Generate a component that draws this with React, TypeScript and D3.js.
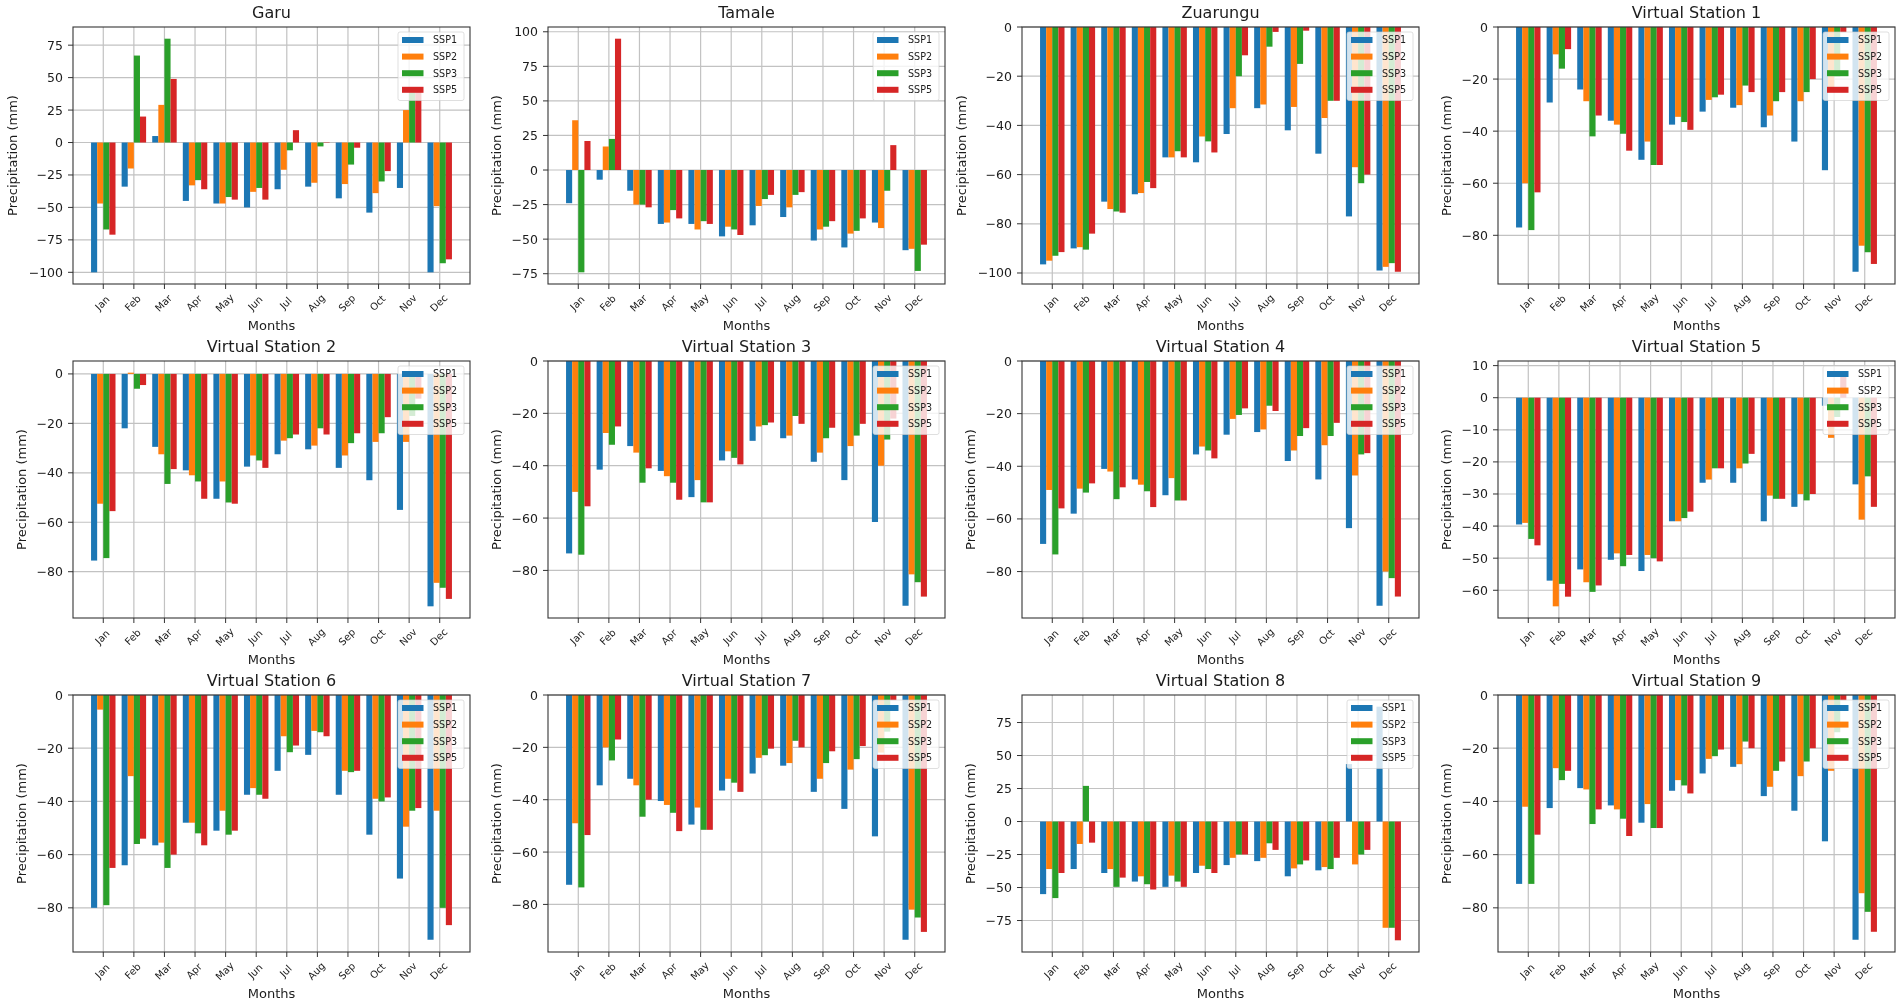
import React from "react";
import * as d3 from "d3";

const months = ["Jan","Feb","Mar","Apr","May","Jun","Jul","Aug","Sep","Oct","Nov","Dec"];
const scenarios = ["SSP1","SSP2","SSP3","SSP5"];
const colors = ["#1f77b4","#ff7f0e","#2ca02c","#d62728"];

const garuSSP1 = [-100,-34,5,-45,-47,-50,-36,-34,-43,-54,-35,-100];
const garuSSP2 = [-47,-20,29,-33,-47,-38,-21,-31,-32,-39,25,-49];
const garuSSP3 = [-67,67,80,-29,-42,-35,-6,-3,-17,-30,40,-93];
const garuSSP5 = [-71,20,49,-36,-44,-44,9.5,-0.3,-4,-22,42,-90];

const tamaleSSP1 = [-24,-7,-15,-39,-39,-48,-40,-34,-51,-56,-38,-58];
const tamaleSSP2 = [36,17,-25,-38,-43,-41,-26,-27,-43,-46,-42,-57];
const tamaleSSP3 = [-74,22.5,-25,-29,-37,-43,-21,-18,-41,-44,-15,-73];
const tamaleSSP5 = [21,95,-27,-35,-39,-47,-18,-16,-37,-35,18,-54];

const zuarunguSSP1 = [-96.5,-90,-71,-68,-53,-55,-43.5,-33,-42,-51.5,-77,-99];
const zuarunguSSP2 = [-95,-89.5,-74,-67.5,-53,-44.5,-33,-31.5,-32.5,-37,-57,-97.5];
const zuarunguSSP3 = [-93,-90.5,-75,-63,-50.5,-46.5,-20,-8,-15,-30,-63.5,-96];
const zuarunguSSP5 = [-91.5,-84,-75.5,-65.5,-53,-51,-11.5,-2,-1.5,-30,-60,-99.5];

const vs1SSP1 = [-77,-29,-24,-36,-51,-37.5,-32.5,-31,-38.5,-44,-55,-94];
const vs1SSP2 = [-60,-10.5,-28.5,-37.5,-44,-34.5,-28,-30,-34,-28.5,-24,-84];
const vs1SSP3 = [-78,-16,-42,-41,-53,-36.5,-27,-22.5,-28.5,-25,-19,-86.5];
const vs1SSP5 = [-63.5,-8.5,-34,-47.5,-53,-39.5,-26,-25,-25,-20,-2,-91];

const vs2SSP1 = [-75.5,-22,-29.5,-39,-50.5,-37.5,-32.5,-30.5,-38,-43,-55,-94];
const vs2SSP2 = [-52.5,0.5,-32.5,-41,-43.5,-33,-27,-29,-33,-27.5,-27.5,-84.5];
const vs2SSP3 = [-74.5,-6,-44.5,-43.5,-52,-35,-26,-22,-28,-24,-17,-86.5];
const vs2SSP5 = [-55.5,-4.5,-38.5,-50.5,-52.5,-38,-24.5,-24.5,-24,-17.5,-10,-91];

const vs3SSP1 = [-73.5,-41.5,-32.5,-42,-52,-38,-30.5,-29.5,-38.5,-45.5,-61.5,-93.5];
const vs3SSP2 = [-50,-27.5,-35,-44,-45.5,-34.5,-25,-28.5,-35,-32.5,-40,-81.5];
const vs3SSP3 = [-74,-32,-46.5,-46.5,-54,-37,-24.5,-21,-29.5,-28.5,-30,-84.5];
const vs3SSP5 = [-55.5,-25,-41,-53,-54,-39.5,-23.5,-24,-25.5,-24,-22,-90];

const vs4SSP1 = [-69.5,-58,-41,-45,-51,-35.5,-28,-27,-38,-45,-63.5,-93];
const vs4SSP2 = [-49,-48.5,-42,-47,-44.5,-32.5,-22,-26,-34,-32,-43.5,-80];
const vs4SSP3 = [-73.5,-50,-52.5,-49.5,-53,-34,-20.5,-17,-28.5,-28.5,-35.5,-82.5];
const vs4SSP5 = [-56,-46.5,-48,-55.5,-53,-37,-18,-19,-25.5,-23.5,-35,-89.5];

const vs5SSP1 = [-39.5,-57,-53.5,-50.5,-54,-38.5,-26.5,-26.5,-38.5,-34,-2.5,-27];
const vs5SSP2 = [-39,-65,-57.5,-48.5,-49,-38.5,-25.5,-22,-30.5,-30,-12.5,-38];
const vs5SSP3 = [-44,-58,-60.5,-52.5,-50,-37.5,-22,-20.5,-31.5,-32,-6,-24.5];
const vs5SSP5 = [-46,-62,-58.5,-49,-51,-35.5,-22,-17.5,-31.5,-30,7.8,-34];

const vs6SSP1 = [-80,-64,-56.5,-48,-51,-37.5,-28.5,-22.5,-37.5,-52.5,-69,-92];
const vs6SSP2 = [-5.5,-30.5,-55.5,-48,-43.5,-35,-15.5,-13.5,-28.5,-39,-49.5,-43.5];
const vs6SSP3 = [-79,-56,-65,-52,-52.5,-37.5,-21.5,-14,-29,-40,-43.5,-80];
const vs6SSP5 = [-65,-54,-60,-56.5,-51,-39,-19,-15.5,-28.5,-38.5,-42.5,-86.5];

const vs7SSP1 = [-72.5,-34.5,-32,-40.5,-49.5,-36.5,-30,-27,-37,-43.5,-54,-93.5];
const vs7SSP2 = [-49,-20,-34.5,-42,-43,-32,-24,-26,-32,-28.5,-22,-82];
const vs7SSP3 = [-73.5,-25,-46.5,-45,-51.5,-33.5,-23,-17.5,-26,-24.5,-14,-85];
const vs7SSP5 = [-53.5,-17,-40,-52,-51.5,-37,-20.5,-20,-21.5,-19.5,-2,-90.5];

const vs8SSP1 = [-55,-36,-39,-45.5,-49.5,-39,-33,-30,-41.5,-37,43.5,87];
const vs8SSP2 = [-36,-17,-36,-41.5,-41,-33.5,-27.5,-27.5,-35.5,-34.5,-32.5,-80.5];
const vs8SSP3 = [-58,27,-49.5,-47.5,-45.5,-36,-25,-16.5,-32.5,-36,-25,-80.5];
const vs8SSP5 = [-39,-16,-42.5,-51.5,-49.5,-39,-25,-21.5,-29.5,-27.5,-21.5,-90];

const vs9SSP1 = [-71,-42.5,-35,-41.5,-48,-36,-29.5,-27,-38,-43.5,-55,-92];
const vs9SSP2 = [-42,-27.5,-35.5,-43,-41,-32,-24,-26,-34.5,-30.5,-28.5,-74.5];
const vs9SSP3 = [-71,-32,-48.5,-46.5,-50,-34,-23,-17.5,-28.5,-25,-14,-81.5];
const vs9SSP5 = [-52.5,-28.5,-43,-53,-50,-37,-20.5,-20,-25,-20,-2,-89];

const titles = ["Garu","Tamale","Zuarungu","Virtual Station 1","Virtual Station 2","Virtual Station 3","Virtual Station 4","Virtual Station 5","Virtual Station 6","Virtual Station 7","Virtual Station 8","Virtual Station 9"];
const seriesByPanel = [
  [garuSSP1,garuSSP2,garuSSP3,garuSSP5],
  [tamaleSSP1,tamaleSSP2,tamaleSSP3,tamaleSSP5],
  [zuarunguSSP1,zuarunguSSP2,zuarunguSSP3,zuarunguSSP5],
  [vs1SSP1,vs1SSP2,vs1SSP3,vs1SSP5],
  [vs2SSP1,vs2SSP2,vs2SSP3,vs2SSP5],
  [vs3SSP1,vs3SSP2,vs3SSP3,vs3SSP5],
  [vs4SSP1,vs4SSP2,vs4SSP3,vs4SSP5],
  [vs5SSP1,vs5SSP2,vs5SSP3,vs5SSP5],
  [vs6SSP1,vs6SSP2,vs6SSP3,vs6SSP5],
  [vs7SSP1,vs7SSP2,vs7SSP3,vs7SSP5],
  [vs8SSP1,vs8SSP2,vs8SSP3,vs8SSP5],
  [vs9SSP1,vs9SSP2,vs9SSP3,vs9SSP5],
];
const tickSteps = [25,25,20,20,20,20,20,10,20,20,25,20];

const colLefts = [73,548,1022,1498];
const rowTops = [27,361,695];
const panelW = 397;
const panelH = 257;
const FONT = "'DejaVu Sans', sans-serif";
const INK = "#1c1c1c";
const GRID = "#c2c2c2";
const BAR_W = 0.2;

function Panel({ index }: { index: number }) {
  const series = seriesByPanel[index];
  const x0 = colLefts[index % 4];
  const y0 = rowTops[Math.floor(index / 4)];
  const x = d3.scaleLinear().domain([-0.4 - 0.59, 11.4 + 0.59]).range([0, panelW]);
  const all = series.flat();
  const lo = Math.min(0, d3.min(all) as number);
  const hi = Math.max(0, d3.max(all) as number);
  const m = (hi - lo) * 0.05;
  const y = d3.scaleLinear().domain([lo - m, hi > 0 ? hi + m : 0]).range([panelH, 0]);
  const step = tickSteps[index];
  const [dLo, dHi] = y.domain();
  const yTicks = d3.range(Math.ceil(dLo / step), Math.floor(dHi / step) + 1).map((k) => k * step);
  const fmt = (v: number) => (v < 0 ? "\u2212" + Math.abs(v) : String(v));
  const longest = d3.max(yTicks, (v) => fmt(v).length) as number;
  const yLabelX = longest >= 4 ? -61 : -52;
  const legendX = panelW - 72;
  const legendY = 5;
  return (
    <g transform={`translate(${x0},${y0})`} fontFamily={FONT} fill={INK}>
      <text x={panelW / 2} y={-9} fontSize={16} textAnchor="middle">{titles[index]}</text>
      {months.map((_, i) => (
        <line key={i} x1={x(i)} x2={x(i)} y1={0} y2={panelH} stroke={GRID} strokeWidth={1.2} />
      ))}
      {yTicks.map((v) => (
        <line key={v} x1={0} x2={panelW} y1={y(v)} y2={y(v)} stroke={GRID} strokeWidth={1.2} />
      ))}
      {series.map((vals, s) => (
        <g key={s} fill={colors[s]}>
          {vals.map((v, i) => {
            const bx = x(i + (s - 2) * BAR_W);
            const bw = x(i + (s - 1) * BAR_W) - bx;
            return <rect key={i} x={bx} width={bw} y={Math.min(y(v), y(0))} height={Math.abs(y(v) - y(0))} />;
          })}
        </g>
      ))}
      <rect x={0} y={0} width={panelW} height={panelH} fill="none" stroke="#333" strokeWidth={1.1} />
      {months.map((mName, i) => (
        <g key={mName}>
          <line x1={x(i)} x2={x(i)} y1={panelH} y2={panelH + 5} stroke="#333" strokeWidth={1} />
          <text
            transform={`translate(${x(i) - 1},${panelH + 19}) rotate(-45)`}
            fontSize={10}
            textAnchor="middle"
            dy="0.35em"
          >
            {mName}
          </text>
        </g>
      ))}
      {yTicks.map((v) => (
        <g key={v}>
          <line x1={-5} x2={0} y1={y(v)} y2={y(v)} stroke="#333" strokeWidth={1} />
          <text x={-10} y={y(v)} dy="0.36em" fontSize={12.5} textAnchor="end">{fmt(v)}</text>
        </g>
      ))}
      <text x={panelW / 2} y={panelH + 46} fontSize={13} textAnchor="middle">Months</text>
      <text
        transform={`translate(${yLabelX},${panelH / 2}) rotate(-90)`}
        fontSize={13}
        textAnchor="middle"
        dy="0.35em"
      >
        Precipitation (mm)
      </text>
      <g transform={`translate(${legendX},${legendY})`}>
        <rect width={66} height={68.5} rx={2} fill="#fff" fillOpacity={0.8} stroke="#ccc" strokeOpacity={0.8} strokeWidth={0.8} />
        {scenarios.map((name, s) => (
          <g key={name} transform={`translate(0,${8 + s * 16.6})`}>
            <rect x={4} y={-3} width={21.5} height={6} fill={colors[s]} />
            <text x={35} dy="0.36em" fontSize={9.6}>{name}</text>
          </g>
        ))}
      </g>
    </g>
  );
}

export default function App() {
  return (
    <svg
      width={1902}
      height={1006}
      viewBox="0 0 1902 1006"
      style={{ position: "absolute", left: 0, top: 0, display: "block", background: "#fff" }}
    >
      <defs>
        <filter id="soft" x="0" y="0" width="1902" height="1006" filterUnits="userSpaceOnUse">
          <feGaussianBlur stdDeviation="0.6" />
        </filter>
      </defs>
      <rect width={1902} height={1006} fill="#fff" />
      <g filter="url(#soft)">
        {titles.map((_, i) => (
          <Panel key={i} index={i} />
        ))}
      </g>
    </svg>
  );
}
